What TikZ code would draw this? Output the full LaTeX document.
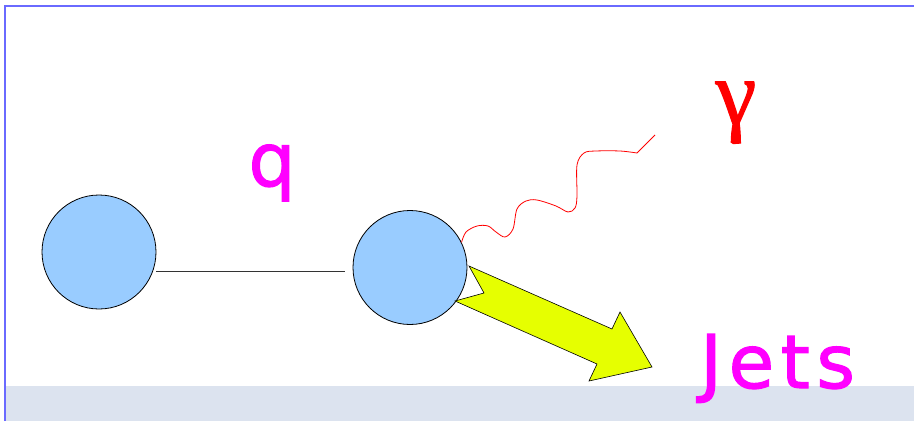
\documentclass[tikz,border=0pt]{standalone}
\usepackage{fontspec}
\usepackage{xcolor}
\usepackage{tikz}
\usetikzlibrary{positioning,calc}
\newfontfamily\labelfont[FakeBold=1.6, LetterSpace=9]{DejaVu Sans}
\newfontfamily\greekfont[FakeBold=1.2]{Liberation Serif}
\definecolor{blobblue}{HTML}{99CCFF}
\definecolor{jetyellow}{HTML}{E6FF00}
\definecolor{bandgrey}{HTML}{DCE3EF}
\definecolor{frameblue}{HTML}{6A6AFF}
\definecolor{labelpink}{HTML}{FF00FF}
\definecolor{photonred}{HTML}{FF0000}

\begin{document}
\begin{tikzpicture}[x=1pt,y=-1pt,
	blob/.style={draw, circle, fill=blobblue, line width=0.8pt, minimum size=114pt, inner sep=0pt},
	quark/.style={line width=1pt, black!80},
	photon/.style={photonred, line width=0.8pt},
	lbl/.style={text=labelpink, font=\labelfont\fontsize{74}{80}\selectfont, inner sep=0pt}]
	\useasboundingbox (0,0) rectangle (914,421);
	\fill[bandgrey] (5,386) rectangle (914,421);
	\draw[frameblue, line width=2pt] (4.5,421) -- (4.5,6) -- (914,6);
	\node[blob] (L) at (99,252) {};
	\node[blob] (R) at (410,267.5) {};
	\draw[quark] ([yshift=-19pt]L.east) -- ([xshift=-8pt,yshift=-3.5pt]R.west);
	\node[lbl, anchor=base] (qlab) at (272,186) {q};
	\node[text=photonred, font=\greekfont\fontsize{92}{96}\selectfont, inner sep=0pt, anchor=base] (glab) at (736,124) {γ};
	\coordinate (gend) at (655,135);
	\draw[photon] plot[smooth, tension=0.55] coordinates {(R.26) (466,232) (477,226) (488,226) (496,232) (505,237) (513,229) (517,209) (526,201) (537,200) (556,206) (568,212) (575,208) (577,196) (577,165) (584,153) (596,151) (620,151) (637,153)} -- (gend);
	\draw[fill=jetyellow, line width=0.6pt] (469,266) -- (484,293) -- (455,301) -- (597,364) -- (589,381) -- (652,367) -- (620,312) -- (612,329) -- cycle;
	\node[lbl, anchor=base west] (jets) at (700,388) {Jets};
\end{tikzpicture}
\end{document}
